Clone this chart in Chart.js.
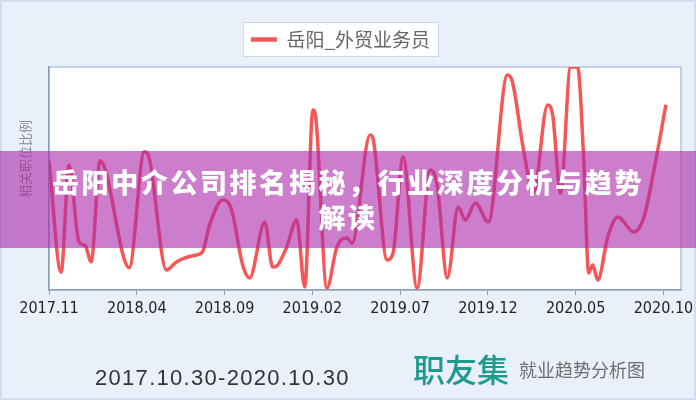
<!DOCTYPE html>
<html lang="zh-CN">
<head>
<meta charset="UTF-8">
<title>岳阳_外贸业务员 就业趋势</title>
<script src="https://cdn.jsdelivr.net/npm/chart.js"></script>
<style>
  body { margin: 0; background: #fff; }
  .wrap { position: relative; width: 696px; height: 400px; background: #eaf0fa; overflow: hidden; font-family: "Noto Sans CJK SC", sans-serif; }
  .frame { position: absolute; left: 0; top: 0; width: 696px; height: 400px; box-sizing: border-box; border: 2px solid #d3ddef; }
  canvas { position: absolute; left: 0; top: 0; }
  .banner { position: absolute; left: 0; top: 151px; width: 696px; height: 97px; background: rgba(170, 40, 170, 0.6);
            color: #fff; font-weight: 900; font-size: 27px; letter-spacing: 2.6px; line-height: 35px; text-align: center; }
  .banner p { margin: 0; padding-top: 13px; }
  .date { position: absolute; left: 95px; top: 366px; font: 22px "Liberation Sans", sans-serif; letter-spacing: 1.3px; color: #333; line-height: 24px; }
  .brand { position: absolute; left: 413px; top: 350px; font-size: 32px; font-weight: 500; color: #1d9b8f; line-height: 36px; }
  .sub { position: absolute; left: 519px; top: 359px; font-size: 18px; color: #6d6d6d; line-height: 20px; }
</style>
</head>
<body>
<div class="wrap">
  <div class="frame"></div>
  <canvas id="trend" width="696" height="400"></canvas>
  <div class="banner"><p>岳阳中介公司排名揭秘，行业深度分析与趋势<br>解读</p></div>
  <div class="date">2017.10.30-2020.10.30</div>
  <div class="brand">职友集</div>
  <div class="sub">就业趋势分析图</div>
</div>
<script>
// months counted from 2017.11, ratio (0 = bottom, 100 = top)
const months = [0, 0.69, 1.14, 1.71, 2.06, 2.4, 2.91, 4.57, 5.43, 5.66, 6.69, 7.26, 7.71, 8.4, 8.74,
  9.14, 9.89, 10.4, 11.03, 11.43, 12.29, 12.74, 13.03, 13.54, 14.11, 14.57, 15.03, 15.2, 15.83,
  16.4, 16.97, 17.26, 18.29, 18.46, 19.26, 19.6, 20.17, 20.97, 21.71, 22.11, 22.69, 23.31, 23.71,
  24.29, 25.03, 26.11, 26.4, 27.03, 27.6, 28.4, 28.69, 29.14, 29.71, 30.11, 30.46, 30.74, 30.97,
  31.26, 31.83, 32.4, 33.31, 33.89, 34.46, 35.14];
const ratio = [58, 8, 56, 21.5, 20, 12.6, 58, 10, 62, 60.5, 9, 12.6, 14.3, 15.7, 17,
  29, 40.4, 36, 11.2, 5.4, 30.5, 10.3, 11.2, 19.3, 31.4, 1.3, 80.7, 77, 0.9,
  19.3, 23.3, 21, 69.5, 67.7, 13.5, 16.6, 59.6, 0.9, 53.8, 47, 5.4, 37.2, 31.4,
  39, 30.5, 96.4, 93.3, 62.8, 43.5, 83, 78.5, 43.5, 100, 100, 58.3, 7.6, 11.2,
  4.5, 23.8, 32.7, 26, 32.7, 53.8, 83];
const tickLabels = ['2017.11', '2018.04', '2018.09', '2019.02', '2019.07', '2019.12', '2020.05', '2020.10'];
const seriesName = '岳阳_外贸业务员';
const axisTitle = '相关职位比例';

Chart.defaults.font.family = '"Noto Sans CJK SC", "Liberation Sans", sans-serif';

// white plot area with a thin frame, and the white box behind the legend
const plotFrame = {
  id: 'plotFrame',
  beforeDraw(chart) {
    const { ctx, chartArea: a } = chart;
    ctx.save();
    ctx.fillStyle = '#fff';
    ctx.fillRect(a.left, a.top, a.width, a.height);
    ctx.strokeStyle = '#b3c3e3';
    ctx.lineWidth = 1.5;
    ctx.strokeRect(a.left, a.top, a.width, a.height);
    const hb = chart.legend.legendHitBoxes[0];
    if (hb) {
      const x = hb.left - 8, y = hb.top - 8, w = hb.width + 16, h = hb.height + 15;
      ctx.fillStyle = '#fff';
      ctx.fillRect(x, y, w, h);
      ctx.strokeStyle = '#cbd7ec';
      ctx.lineWidth = 1;
      ctx.strokeRect(x + 0.5, y + 0.5, w, h);
    }
    ctx.restore();
  }
};

new Chart(document.getElementById('trend'), {
  type: 'line',
  data: {
    datasets: [{
      label: seriesName,
      data: months.map((m, i) => ({ x: m, y: ratio[i] })),
      borderColor: 'rgba(246, 72, 72, 0.92)',
      backgroundColor: 'rgba(246, 72, 72, 0.92)',
      borderWidth: 3.5,
      pointRadius: 0,
      cubicInterpolationMode: 'monotone',
      xAxisID: 'x',
      yAxisID: 'y'
    }]
  },
  options: {
    responsive: false,
    animation: false,
    devicePixelRatio: 1,
    layout: { padding: { top: 20, left: 0, right: 15, bottom: 80 } },
    plugins: {
      legend: {
        position: 'top',
        labels: {
          usePointStyle: true,
          pointStyle: 'line',
          pointStyleWidth: 26,
          padding: 10,
          color: '#666',
          font: { size: 19 },
          generateLabels: c => Chart.defaults.plugins.legend.labels.generateLabels(c)
            .map(l => Object.assign(l, { lineWidth: 4.5 }))
        }
      },
      tooltip: { enabled: false }
    },
    scales: {
      x: {
        type: 'linear',
        min: 0,
        max: 36,
        grid: { display: true, drawOnChartArea: false, drawTicks: true, tickLength: 5, color: '#8d9dbd' },
        border: { display: true, color: '#8d9dbd', width: 1.5 },
        ticks: {
          stepSize: 5,
          includeBounds: false,
          autoSkip: false,
          maxRotation: 0,
          padding: 4,
          color: '#222',
          font: { family: '"DejaVu Sans Condensed", "DejaVu Sans", sans-serif', size: 16 },
          callback: v => tickLabels[v / 5] ?? ''
        },
        afterFit: s => { s.height = 30; s.paddingLeft = 0; s.paddingRight = 0; }
      },
      topGap: {
        type: 'linear',
        axis: 'x',
        position: 'top',
        display: true,
        grid: { display: false },
        border: { display: false },
        ticks: { display: false },
        afterFit: s => { s.height = 8; }
      },
      y: {
        min: 0,
        max: 100,
        grid: { display: false },
        border: { display: true, color: '#8d9dbd', width: 1.5 },
        ticks: { display: false },
        title: {
          display: true,
          text: '\u3000\u3000\u3000' + axisTitle,
          color: '#8a8a8a',
          font: { size: 13 },
          padding: { top: 17, bottom: 0 }
        },
        afterFit: s => { s.width = 49; }
      }
    }
  },
  plugins: [plotFrame]
});
</script>
</body>
</html>
